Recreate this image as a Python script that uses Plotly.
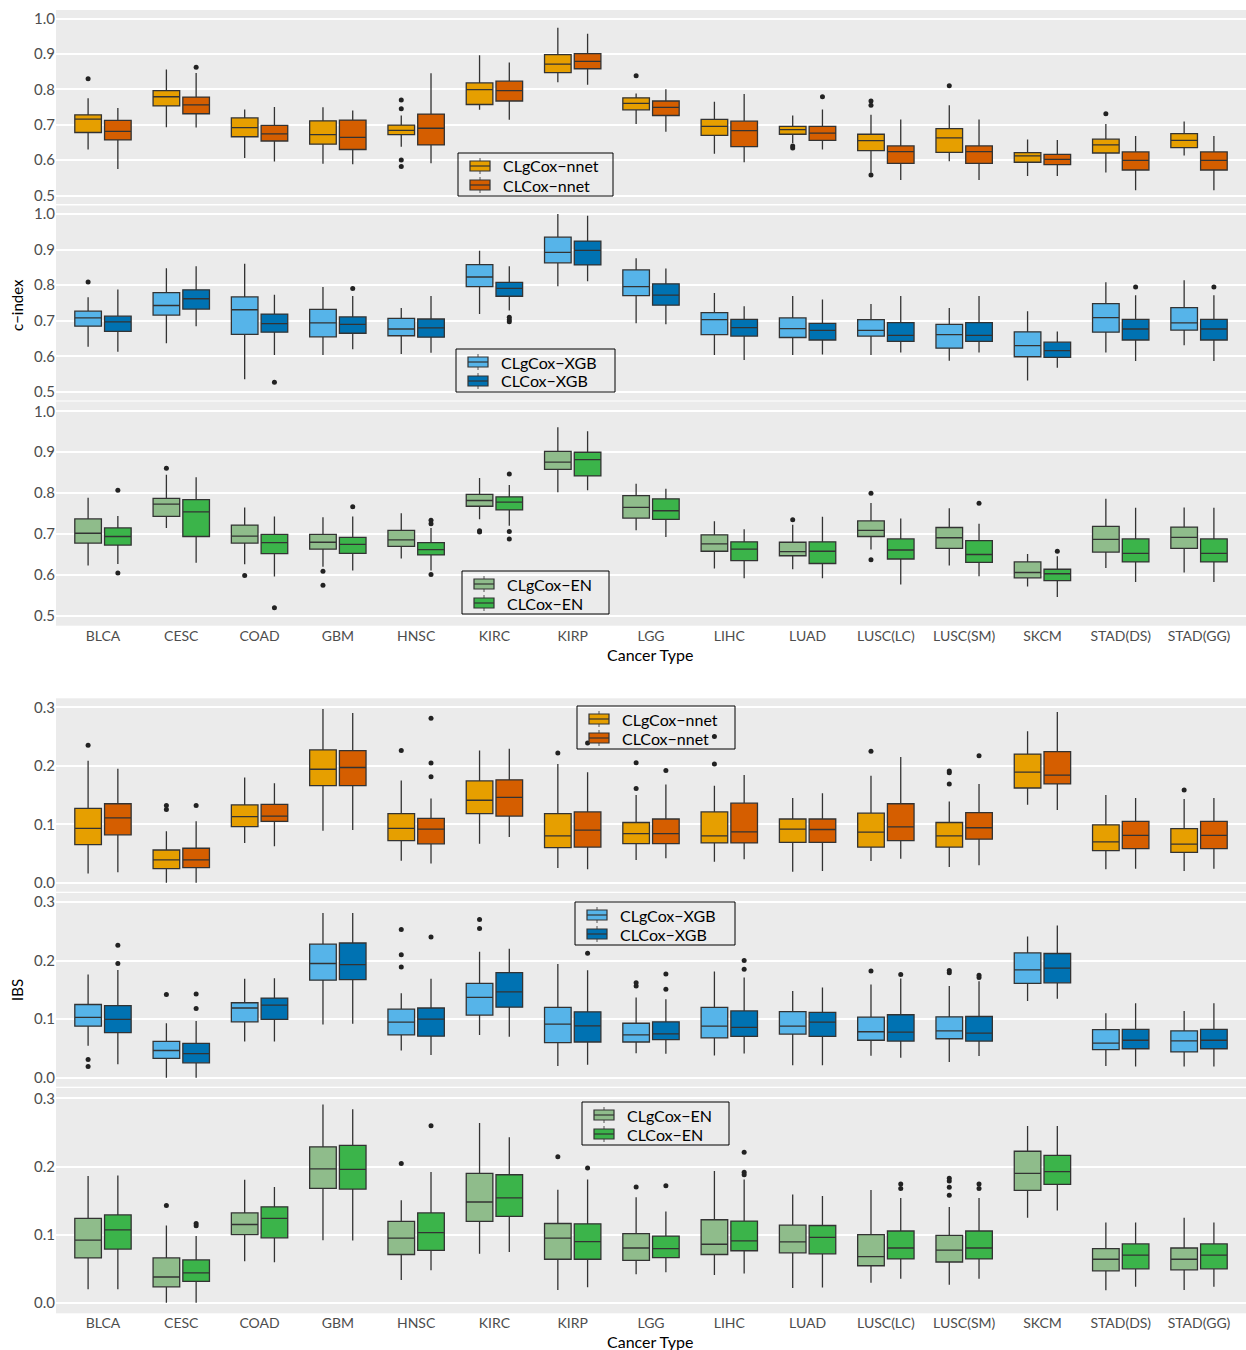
import plotly.graph_objects as go

# ---------------------------------------------------------------- data
categories = ["BLCA", "CESC", "COAD", "GBM", "HNSC", "KIRC", "KIRP", "LGG", "LIHC",
              "LUAD", "LUSC(LC)", "LUSC(SM)", "SKCM", "STAD(DS)", "STAD(GG)"]

# each row: [lower whisker, Q1, median, Q3, upper whisker]
cidx_nnet_g = [[0.630, 0.678, 0.716, 0.728, 0.775], [0.693, 0.753, 0.779, 0.796, 0.856],
               [0.606, 0.666, 0.692, 0.719, 0.743], [0.590, 0.645, 0.672, 0.711, 0.749],
               [0.638, 0.672, 0.684, 0.699, 0.726], [0.742, 0.757, 0.799, 0.818, 0.896],
               [0.820, 0.847, 0.871, 0.898, 0.974], [0.702, 0.742, 0.760, 0.776, 0.788],
               [0.618, 0.670, 0.695, 0.715, 0.765], [0.648, 0.673, 0.686, 0.695, 0.726],
               [0.564, 0.627, 0.655, 0.673, 0.728], [0.597, 0.622, 0.663, 0.689, 0.755],
               [0.555, 0.594, 0.612, 0.621, 0.658], [0.565, 0.620, 0.643, 0.659, 0.702],
               [0.613, 0.635, 0.656, 0.675, 0.709]]
cidx_nnet_g_out = [[0.830], [], [], [], [0.770, 0.745, 0.600, 0.582], [], [], [0.838], [],
                   [0.640, 0.634], [0.767, 0.755, 0.558], [0.810], [], [0.731], []]

cidx_nnet = [[0.575, 0.657, 0.681, 0.712, 0.747], [0.692, 0.731, 0.756, 0.778, 0.846],
             [0.596, 0.654, 0.674, 0.698, 0.750], [0.588, 0.630, 0.664, 0.713, 0.740],
             [0.591, 0.643, 0.690, 0.730, 0.845], [0.714, 0.767, 0.796, 0.823, 0.876],
             [0.813, 0.858, 0.879, 0.901, 0.957], [0.680, 0.726, 0.749, 0.767, 0.800],
             [0.594, 0.638, 0.683, 0.710, 0.787], [0.630, 0.656, 0.676, 0.695, 0.743],
             [0.544, 0.591, 0.624, 0.640, 0.715], [0.544, 0.591, 0.624, 0.640, 0.715],
             [0.555, 0.587, 0.602, 0.616, 0.657], [0.515, 0.572, 0.599, 0.623, 0.668],
             [0.515, 0.572, 0.599, 0.623, 0.668]]
cidx_nnet_out = [[], [0.862], [], [], [], [], [], [], [], [0.779], [], [], [], [], []]

cidx_xgb_g = [[0.627, 0.685, 0.708, 0.727, 0.766], [0.637, 0.716, 0.743, 0.779, 0.848],
              [0.536, 0.662, 0.731, 0.767, 0.860], [0.604, 0.655, 0.694, 0.732, 0.795],
              [0.607, 0.658, 0.677, 0.707, 0.736], [0.719, 0.796, 0.823, 0.858, 0.897],
              [0.797, 0.863, 0.892, 0.935, 1.000], [0.693, 0.771, 0.796, 0.843, 0.876],
              [0.604, 0.661, 0.703, 0.723, 0.778], [0.604, 0.653, 0.678, 0.708, 0.770],
              [0.604, 0.657, 0.673, 0.703, 0.747], [0.588, 0.623, 0.661, 0.690, 0.736],
              [0.532, 0.599, 0.630, 0.669, 0.727], [0.611, 0.668, 0.709, 0.748, 0.808],
              [0.631, 0.674, 0.694, 0.737, 0.814]]
cidx_xgb_g_out = [[0.809], [], [], [], [], [], [], [], [], [], [], [], [], [], []]

cidx_xgb = [[0.613, 0.670, 0.697, 0.713, 0.788], [0.685, 0.733, 0.762, 0.787, 0.853],
            [0.604, 0.668, 0.692, 0.719, 0.773], [0.620, 0.665, 0.690, 0.711, 0.770],
            [0.610, 0.654, 0.680, 0.705, 0.770], [0.729, 0.769, 0.791, 0.808, 0.853],
            [0.811, 0.857, 0.898, 0.924, 0.995], [0.690, 0.744, 0.772, 0.804, 0.847],
            [0.590, 0.657, 0.681, 0.704, 0.741], [0.605, 0.646, 0.673, 0.693, 0.760],
            [0.611, 0.642, 0.659, 0.695, 0.770], [0.611, 0.642, 0.659, 0.695, 0.770],
            [0.568, 0.597, 0.616, 0.640, 0.670], [0.587, 0.646, 0.677, 0.704, 0.772],
            [0.587, 0.646, 0.677, 0.704, 0.772]]
cidx_xgb_out = [[], [], [0.527], [0.791], [], [0.710, 0.703, 0.697], [], [], [], [], [], [],
                [], [0.795], [0.795]]

cidx_en_g = [[0.623, 0.678, 0.702, 0.737, 0.789], [0.715, 0.743, 0.773, 0.787, 0.845],
             [0.626, 0.678, 0.695, 0.722, 0.765], [0.620, 0.663, 0.680, 0.699, 0.741],
             [0.640, 0.670, 0.686, 0.709, 0.751], [0.736, 0.768, 0.782, 0.797, 0.837],
             [0.802, 0.858, 0.876, 0.902, 0.961], [0.709, 0.739, 0.765, 0.794, 0.823],
             [0.616, 0.658, 0.676, 0.698, 0.731], [0.614, 0.647, 0.657, 0.680, 0.723],
             [0.662, 0.694, 0.709, 0.732, 0.776], [0.623, 0.665, 0.691, 0.716, 0.763],
             [0.572, 0.593, 0.606, 0.632, 0.651], [0.617, 0.656, 0.687, 0.719, 0.786],
             [0.606, 0.665, 0.692, 0.717, 0.765]]
cidx_en_g_out = [[], [0.861], [0.599], [0.609, 0.575], [], [0.708, 0.705], [], [], [],
                 [0.735], [0.800, 0.637], [], [], [], []]

cidx_en = [[0.627, 0.673, 0.694, 0.715, 0.744], [0.630, 0.694, 0.754, 0.784, 0.839],
           [0.596, 0.652, 0.679, 0.699, 0.743], [0.611, 0.653, 0.675, 0.692, 0.743],
           [0.611, 0.649, 0.662, 0.679, 0.715], [0.720, 0.759, 0.778, 0.791, 0.820],
           [0.807, 0.842, 0.882, 0.900, 0.951], [0.693, 0.736, 0.757, 0.786, 0.811],
           [0.592, 0.635, 0.663, 0.681, 0.712], [0.592, 0.628, 0.658, 0.681, 0.742],
           [0.577, 0.639, 0.661, 0.688, 0.738], [0.597, 0.631, 0.650, 0.684, 0.725],
           [0.546, 0.586, 0.603, 0.614, 0.646], [0.583, 0.632, 0.653, 0.688, 0.764],
           [0.583, 0.632, 0.653, 0.688, 0.764]]
cidx_en_out = [[0.807, 0.605], [], [0.520], [0.767], [0.734, 0.725, 0.601],
               [0.847, 0.706, 0.688], [], [], [], [], [], [0.775], [0.658], [], []]

ibs_nnet_g = [[0.016, 0.065, 0.093, 0.127, 0.2085], [0.0, 0.024, 0.039, 0.056, 0.088],
              [0.068, 0.096, 0.113, 0.133, 0.180], [0.089, 0.166, 0.194, 0.227, 0.297],
              [0.0375, 0.072, 0.093, 0.118, 0.175], [0.0665, 0.118, 0.141, 0.174, 0.226],
              [0.025, 0.060, 0.080, 0.118, 0.203], [0.039, 0.067, 0.084, 0.103, 0.150],
              [0.036, 0.068, 0.080, 0.121, 0.166], [0.019, 0.069, 0.0915, 0.109, 0.145],
              [0.037, 0.061, 0.0865, 0.119, 0.183], [0.027, 0.061, 0.080, 0.103, 0.139],
              [0.1335, 0.162, 0.189, 0.220, 0.259], [0.023, 0.055, 0.070, 0.099, 0.150],
              [0.020, 0.052, 0.066, 0.0925, 0.143]]
ibs_nnet_g_out = [[0.235], [0.132, 0.125], [], [], [0.226], [], [0.222], [0.205, 0.161],
                  [0.203, 0.250], [], [0.225], [0.191, 0.188, 0.169], [], [], [0.1585]]

ibs_nnet = [[0.018, 0.082, 0.111, 0.135, 0.195], [0.0, 0.026, 0.039, 0.059, 0.105],
            [0.0625, 0.105, 0.114, 0.134, 0.170], [0.090, 0.166, 0.197, 0.226, 0.290],
            [0.033, 0.0665, 0.0915, 0.110, 0.144], [0.078, 0.114, 0.146, 0.176, 0.229],
            [0.023, 0.061, 0.090, 0.121, 0.189], [0.042, 0.067, 0.084, 0.109, 0.168],
            [0.040, 0.068, 0.087, 0.136, 0.184], [0.020, 0.069, 0.091, 0.109, 0.153],
            [0.041, 0.072, 0.0955, 0.135, 0.215], [0.030, 0.0745, 0.094, 0.120, 0.169],
            [0.1245, 0.169, 0.184, 0.224, 0.292], [0.024, 0.0585, 0.081, 0.105, 0.145],
            [0.024, 0.0585, 0.081, 0.105, 0.145]]
ibs_nnet_out = [[], [0.132], [], [], [0.281, 0.2045, 0.181], [], [0.239], [0.192], [], [],
                [], [0.217], [], [], []]

ibs_xgb_g = [[0.0545, 0.088, 0.103, 0.125, 0.176], [0.0, 0.033, 0.0465, 0.062, 0.093],
             [0.062, 0.0955, 0.119, 0.128, 0.169], [0.091, 0.1665, 0.195, 0.228, 0.281],
             [0.0465, 0.073, 0.095, 0.117, 0.144], [0.073, 0.107, 0.137, 0.161, 0.215],
             [0.020, 0.060, 0.0915, 0.120, 0.194], [0.042, 0.061, 0.073, 0.093, 0.137],
             [0.038, 0.068, 0.088, 0.120, 0.1815], [0.0215, 0.0745, 0.088, 0.113, 0.148],
             [0.0375, 0.064, 0.0785, 0.1035, 0.159], [0.027, 0.0665, 0.080, 0.104, 0.1565],
             [0.131, 0.161, 0.184, 0.213, 0.241], [0.020, 0.048, 0.059, 0.082, 0.110],
             [0.019, 0.044, 0.063, 0.080, 0.114]]
ibs_xgb_g_out = [[0.031, 0.019], [0.142], [], [], [0.253, 0.210, 0.189], [0.270, 0.2545], [],
                 [0.162, 0.1565], [], [], [0.182], [0.183, 0.179], [], [], []]

ibs_xgb = [[0.023, 0.077, 0.0995, 0.123, 0.184], [0.0, 0.0255, 0.041, 0.0585, 0.097],
           [0.062, 0.0995, 0.124, 0.136, 0.170], [0.092, 0.1675, 0.193, 0.230, 0.281],
           [0.039, 0.071, 0.100, 0.119, 0.169], [0.070, 0.1205, 0.1465, 0.1795, 0.220],
           [0.022, 0.061, 0.0885, 0.1125, 0.1835], [0.041, 0.065, 0.075, 0.0955, 0.134],
           [0.0415, 0.0705, 0.086, 0.114, 0.171], [0.0215, 0.0705, 0.095, 0.1115, 0.154],
           [0.034, 0.0625, 0.078, 0.1075, 0.1695], [0.037, 0.0625, 0.076, 0.1045, 0.1645],
           [0.135, 0.162, 0.187, 0.212, 0.260], [0.019, 0.0495, 0.064, 0.0825, 0.127],
           [0.019, 0.0495, 0.064, 0.0825, 0.127]]
ibs_xgb_out = [[0.226, 0.195], [0.143, 0.118], [], [], [0.240], [], [0.2125], [0.177, 0.151],
               [0.200, 0.185], [], [0.176], [0.175, 0.171], [], [], []]

ibs_en_g = [[0.020, 0.066, 0.092, 0.124, 0.186], [0.0, 0.0235, 0.038, 0.066, 0.1135],
            [0.061, 0.100, 0.115, 0.132, 0.1805], [0.092, 0.168, 0.1965, 0.229, 0.291],
            [0.0335, 0.071, 0.095, 0.1195, 0.1505], [0.072, 0.1195, 0.148, 0.190, 0.264],
            [0.019, 0.064, 0.095, 0.1165, 0.166], [0.042, 0.0625, 0.0805, 0.1015, 0.155],
            [0.041, 0.071, 0.086, 0.122, 0.1935], [0.022, 0.0735, 0.0895, 0.114, 0.159],
            [0.0295, 0.0545, 0.068, 0.100, 0.1655], [0.0265, 0.060, 0.0775, 0.099, 0.1405],
            [0.125, 0.165, 0.190, 0.2225, 0.2595], [0.0185, 0.047, 0.064, 0.0795, 0.118],
            [0.019, 0.0485, 0.064, 0.0805, 0.125]]
ibs_en_g_out = [[], [0.143], [], [], [0.2045], [], [0.2145], [0.170], [], [], [],
                [0.183, 0.179, 0.1695, 0.158], [], [], []]

ibs_en = [[0.020, 0.079, 0.107, 0.129, 0.187], [0.0, 0.0315, 0.044, 0.063, 0.098],
          [0.0595, 0.0955, 0.124, 0.141, 0.170], [0.0915, 0.167, 0.196, 0.231, 0.284],
          [0.048, 0.077, 0.103, 0.132, 0.192], [0.0745, 0.127, 0.154, 0.188, 0.243],
          [0.023, 0.064, 0.090, 0.116, 0.181], [0.045, 0.0665, 0.0795, 0.098, 0.134],
          [0.043, 0.0765, 0.091, 0.120, 0.181], [0.0225, 0.072, 0.096, 0.1135, 0.157],
          [0.0355, 0.0645, 0.0805, 0.1055, 0.154], [0.0355, 0.0645, 0.0805, 0.1055, 0.154],
          [0.1355, 0.174, 0.1925, 0.2165, 0.2595], [0.0235, 0.050, 0.070, 0.0865, 0.118],
          [0.0235, 0.050, 0.070, 0.0865, 0.118]]
ibs_en_out = [[], [0.1165, 0.113], [], [], [0.260], [], [0.198], [0.172],
              [0.221, 0.1915, 0.188], [], [0.1745, 0.168], [0.1745, 0.168], [], [], []]

series_names = [("CLgCox\u2212nnet", "CLCox\u2212nnet"),
                ("CLgCox\u2212XGB", "CLCox\u2212XGB"),
                ("CLgCox\u2212EN", "CLCox\u2212EN")]
series_colors = [("#E69F00", "#D55E00"),
                 ("#56B4E9", "#0072B2"),
                 ("#8FBC8B", "#3BB44A")]

panels = [
    (cidx_nnet_g, cidx_nnet_g_out, cidx_nnet, cidx_nnet_out),
    (cidx_xgb_g, cidx_xgb_g_out, cidx_xgb, cidx_xgb_out),
    (cidx_en_g, cidx_en_g_out, cidx_en, cidx_en_out),
    (ibs_nnet_g, ibs_nnet_g_out, ibs_nnet, ibs_nnet_out),
    (ibs_xgb_g, ibs_xgb_g_out, ibs_xgb, ibs_xgb_out),
    (ibs_en_g, ibs_en_g_out, ibs_en, ibs_en_out),
]

# ---------------------------------------------------------------- layout constants
W, H = 1246, 1350
FONT = "Lato"
BG = "#EBEBEB"
EDGE = "#333333"
X_LEFT, X_RIGHT = 56, 1246
panel_px = [(10, 204), (205.5, 400.5), (401.5, 625.7),
            (698.3, 891.7), (893, 1086.7), (1088, 1313.3)]
# legend boxes: left, top, width (pixels); two rows 19 px apart
legend_px = [(458, 153, 155), (456, 349, 159), (462, 571, 147),
             (577, 706, 158), (575, 902, 160), (582, 1102, 147)]
LEG_H = 43
DODGE = 0.19
BOX_W = 0.34


def px_x(v):
    return v / W


def px_y(v):
    return 1 - v / H


fig = go.Figure()
layout = dict(width=W, height=H, margin=dict(l=0, r=0, t=0, b=0),
              paper_bgcolor="white", plot_bgcolor=BG, showlegend=False,
              boxmode="overlay", font=dict(family=FONT, color="black"))
shapes, annotations = [], []

n = len(categories)
for p, (g_stats, g_out, c_stats, c_out) in enumerate(panels):
    k = p + 1
    xa, ya = f"x{k}" if k > 1 else "x", f"y{k}" if k > 1 else "y"
    names = series_names[p % 3]
    cols = series_colors[p % 3]
    for s, (stats, outs, off) in enumerate([(g_stats, g_out, -DODGE), (c_stats, c_out, DODGE)]):
        xs = [i + off for i in range(n)]
        fig.add_trace(go.Box(
            x=xs,
            lowerfence=[r[0] for r in stats], q1=[r[1] for r in stats],
            median=[r[2] for r in stats], q3=[r[3] for r in stats],
            upperfence=[r[4] for r in stats],
            width=BOX_W, whiskerwidth=0, boxpoints=False,
            fillcolor=cols[s], line=dict(color=EDGE, width=1.3),
            name=names[s], xaxis=xa, yaxis=ya, hoverinfo="skip"))
        ox, oy = [], []
        for i, vals in enumerate(outs):
            for v in vals:
                ox.append(i + off)
                oy.append(v)
        fig.add_trace(go.Scatter(
            x=ox, y=oy, mode="markers", name=names[s] + " outliers",
            marker=dict(color="#222222", size=5),
            xaxis=xa, yaxis=ya, hoverinfo="skip"))

    top, bot = panel_px[p]
    is_cidx = p < 3
    show_x = p in (2, 5)
    layout[f"xaxis{k}" if k > 1 else "xaxis"] = dict(
        domain=[px_x(X_LEFT), px_x(X_RIGHT)], anchor=ya,
        range=[-0.6, n - 1 + 0.6], tickmode="array",
        tickvals=list(range(n)), ticktext=categories, showticklabels=show_x,
        showgrid=False, zeroline=False, ticks="",
        tickfont=dict(family=FONT, size=14, color="#4D4D4D"))
    layout[f"yaxis{k}" if k > 1 else "yaxis"] = dict(
        domain=[px_y(bot), px_y(top)], anchor=xa,
        range=[0.476, 1.024] if is_cidx else [-0.0153, 0.3153],
        tickmode="array",
        tickvals=[0.5, 0.6, 0.7, 0.8, 0.9, 1.0] if is_cidx else [0.0, 0.1, 0.2, 0.3],
        ticktext=(["0.5", "0.6", "0.7", "0.8", "0.9", "1.0"] if is_cidx
                  else ["0.0", "0.1", "0.2", "0.3"]),
        showgrid=True, gridcolor="white", gridwidth=1.5, zeroline=False, ticks="",
        tickfont=dict(family=FONT, size=15, color="#4D4D4D"))

    # framed key with a small box glyph per series
    lx, ly, lw = legend_px[p]
    shapes.append(dict(type="rect", xref="paper", yref="paper", layer="above",
                       x0=px_x(lx), x1=px_x(lx + lw), y0=px_y(ly + LEG_H), y1=px_y(ly),
                       line=dict(color="black", width=1), fillcolor="rgba(0,0,0,0)"))
    for s in range(2):
        cy = ly + 13 + 19 * s
        gx0, gx1 = lx + 12, lx + 32
        gxc = (gx0 + gx1) / 2
        shapes.append(dict(type="line", xref="paper", yref="paper", layer="above",
                           x0=px_x(gxc), x1=px_x(gxc), y0=px_y(cy - 8), y1=px_y(cy + 8),
                           line=dict(color="#555555", width=1)))
        shapes.append(dict(type="rect", xref="paper", yref="paper", layer="above",
                           x0=px_x(gx0), x1=px_x(gx1), y0=px_y(cy + 5), y1=px_y(cy - 5),
                           line=dict(color=EDGE, width=1.2), fillcolor=cols[s]))
        shapes.append(dict(type="line", xref="paper", yref="paper", layer="above",
                           x0=px_x(gx0), x1=px_x(gx1), y0=px_y(cy), y1=px_y(cy),
                           line=dict(color=EDGE, width=1.2)))
        annotations.append(dict(text=names[s], x=px_x(lx + 43), y=px_y(cy),
                                xref="paper", yref="paper", xanchor="left", yanchor="middle",
                                showarrow=False,
                                font=dict(family=FONT, size=16, color="black")))

annotations += [
    dict(text="c\u2212index", x=px_x(17), y=px_y(305), xref="paper", yref="paper",
         xanchor="center", yanchor="middle", textangle=-90, showarrow=False,
         font=dict(family=FONT, size=15, color="black")),
    dict(text="IBS", x=px_x(17), y=px_y(990), xref="paper", yref="paper",
         xanchor="center", yanchor="middle", textangle=-90, showarrow=False,
         font=dict(family=FONT, size=15, color="black")),
    dict(text="Cancer Type", x=px_x(650), y=px_y(654), xref="paper", yref="paper",
         xanchor="center", yanchor="middle", showarrow=False,
         font=dict(family=FONT, size=16, color="black")),
    dict(text="Cancer Type", x=px_x(650), y=px_y(1341), xref="paper", yref="paper",
         xanchor="center", yanchor="middle", showarrow=False,
         font=dict(family=FONT, size=16, color="black")),
]
layout["shapes"] = shapes
layout["annotations"] = annotations

fig.update_layout(**layout)
fig.write_html("out.html")
